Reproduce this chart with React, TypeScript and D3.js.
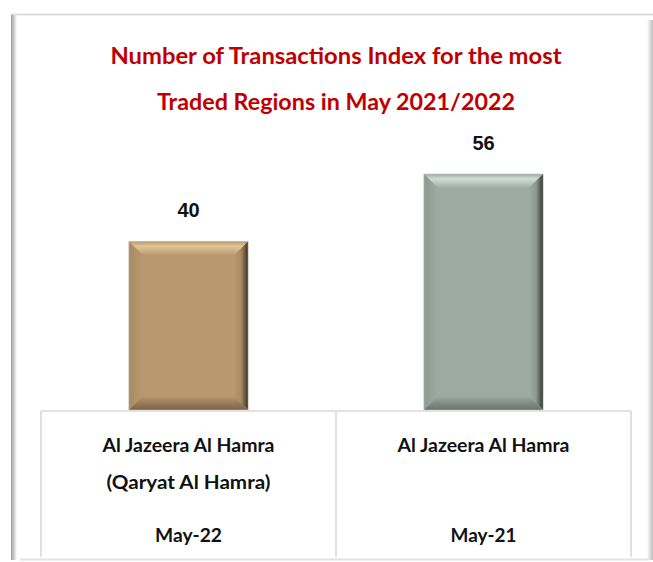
import React from "react";
import * as d3 from "d3";

const categories = ["May-22", "May-21"];
const regionLines = [
  ["Al Jazeera Al Hamra", "(Qaryat Al Hamra)"],
  ["Al Jazeera Al Hamra"],
];
const values = [40, 56];
const titleLines = [
  "Number of Transactions Index for the most",
  "Traded Regions in May 2021/2022",
];

const palettes = [
  { main: "#B8986F", light: "#E3C597", left: "#A88A62", right: "#3E3122", bottom: "#7A6245" },
  { main: "#9DABA2", light: "#CFDDD4", left: "#8C9A91", right: "#2F3833", bottom: "#66726B" },
];

const W = 653;
const H = 562;
const tableLeft = 41;
const tableRight = 631;
const tableTop = 411;
const tableBottom = 557;
const baseline = 410;
const barTopMax = 174;
const bevel = 14;

export default function App() {
  const x = d3.scaleBand<string>().domain(categories).range([tableLeft, tableRight]).padding(0);
  const y = d3.scaleLinear().domain([0, d3.max(values) as number]).range([baseline, barTopMax]);
  const barW = x.step() * 0.404;
  const font = "Lato, 'Open Sans', sans-serif";
  const lineColor = "#D9D9DF";

  return (
    <svg width={W} height={H} style={{ position: "absolute", left: 0, top: 0 }} viewBox={`0 0 ${W} ${H}`}>
      <defs>
        <linearGradient id="leftShadow" x1="0" x2="1" y1="0" y2="0">
          <stop offset="0" stopColor="#9a9a9a" />
          <stop offset="0.4" stopColor="#c4c4c4" />
          <stop offset="1" stopColor="#ffffff" />
        </linearGradient>
        <linearGradient id="rightShadow" x1="0" x2="1" y1="0" y2="0">
          <stop offset="0" stopColor="#ffffff" />
          <stop offset="0.6" stopColor="#d6d6d6" />
          <stop offset="1" stopColor="#bdbdbd" />
        </linearGradient>
        {palettes.map((p, i) => (
          <React.Fragment key={i}>
            <linearGradient id={`top${i}`} x1="0" x2="0" y1="0" y2="1">
              <stop offset="0" stopColor={p.main} />
              <stop offset="0.35" stopColor={p.light} />
              <stop offset="1" stopColor={p.main} />
            </linearGradient>
            <linearGradient id={`right${i}`} x1="0" x2="1" y1="0" y2="0">
              <stop offset="0" stopColor={p.main} />
              <stop offset="0.5" stopColor={p.left} />
              <stop offset="1" stopColor={p.right} />
            </linearGradient>
            <linearGradient id={`bottom${i}`} x1="0" x2="0" y1="0" y2="1">
              <stop offset="0" stopColor={p.main} />
              <stop offset="1" stopColor={p.bottom} />
            </linearGradient>
            <linearGradient id={`left${i}`} x1="0" x2="1" y1="0" y2="0">
              <stop offset="0" stopColor={p.left} />
              <stop offset="1" stopColor={p.main} />
            </linearGradient>
          </React.Fragment>
        ))}
      </defs>

      <rect x={0} y={0} width={W} height={H} fill="#ffffff" />

      {/* outer frame */}
      <line x1={11} x2={W} y1={14.5} y2={14.5} stroke="#DCDCE2" strokeWidth={2} />
      <rect x={11} y={15} width={6} height={545} fill="url(#leftShadow)" />
      <rect x={647} y={20} width={6} height={540} fill="url(#rightShadow)" />
      <line x1={20} x2={649} y1={559.5} y2={559.5} stroke="#E2E2E8" strokeWidth={2} />

      {/* title */}
      {titleLines.map((t, i) => (
        <text
          key={i}
          x={336}
          y={64 + i * 46}
          textAnchor="middle"
          fill="#C00000"
          fontFamily={font}
          fontWeight={700}
          fontSize={23}
          textLength={i === 0 ? 451 : 358}
          lengthAdjust="spacingAndGlyphs"
        >
          {t}
        </text>
      ))}

      {/* bars */}
      {categories.map((c, i) => {
        const p = palettes[i];
        const cx = (x(c) as number) + x.bandwidth() / 2;
        const x0 = cx - barW / 2;
        const x1 = cx + barW / 2;
        const y0 = y(values[i]);
        const y1 = y(0);
        const b = bevel;
        return (
          <g key={c}>
            <rect x={x0} y={y0} width={barW} height={y1 - y0} fill={p.main} />
            <polygon points={`${x0},${y0} ${x1},${y0} ${x1 - b},${y0 + b} ${x0 + b},${y0 + b}`} fill={`url(#top${i})`} />
            <polygon points={`${x0},${y0} ${x0 + b},${y0 + b} ${x0 + b},${y1 - b} ${x0},${y1}`} fill={`url(#left${i})`} />
            <polygon points={`${x1},${y0} ${x1},${y1} ${x1 - b},${y1 - b} ${x1 - b},${y0 + b}`} fill={`url(#right${i})`} />
            <polygon points={`${x0},${y1} ${x1},${y1} ${x1 - b},${y1 - b} ${x0 + b},${y1 - b}`} fill={`url(#bottom${i})`} />
            <rect x={x0} y={y0} width={barW} height={y1 - y0} fill="none" stroke="#bfbfbf" strokeWidth={0.6} />
            <text
              x={cx}
              y={y0 - 24.5}
              textAnchor="middle"
              fontFamily="'Liberation Sans', Arial, sans-serif"
              fontWeight={700}
              fontSize={20}
              fill="#111"
            >
              {values[i]}
            </text>
          </g>
        );
      })}

      {/* table */}
      <line x1={tableLeft} x2={tableRight} y1={tableTop} y2={tableTop} stroke={lineColor} strokeWidth={1.6} />
      {[tableLeft, (x(categories[1]) as number), tableRight].map((lx, i) => (
        <line key={i} x1={lx} x2={lx} y1={tableTop} y2={tableBottom} stroke={lineColor} strokeWidth={1.6} />
      ))}
      {categories.map((c, i) => {
        const cx = (x(c) as number) + x.bandwidth() / 2;
        return (
          <g key={c}>
            {regionLines[i].map((l, j) => (
              <text
                key={j}
                x={cx}
                y={452 + j * 36.5}
                textAnchor="middle"
                fontFamily={font}
                fontWeight={700}
                fontSize={18}
                fill="#111"
                textLength={j === 0 ? 172 : 164}
                lengthAdjust="spacingAndGlyphs"
              >
                {l}
              </text>
            ))}
            <text
              x={cx}
              y={542}
              textAnchor="middle"
              fontFamily={font}
              fontWeight={700}
              fontSize={18}
              fill="#111"
              textLength={i === 0 ? 67 : 66}
              lengthAdjust="spacingAndGlyphs"
            >
              {c}
            </text>
          </g>
        );
      })}
    </svg>
  );
}
